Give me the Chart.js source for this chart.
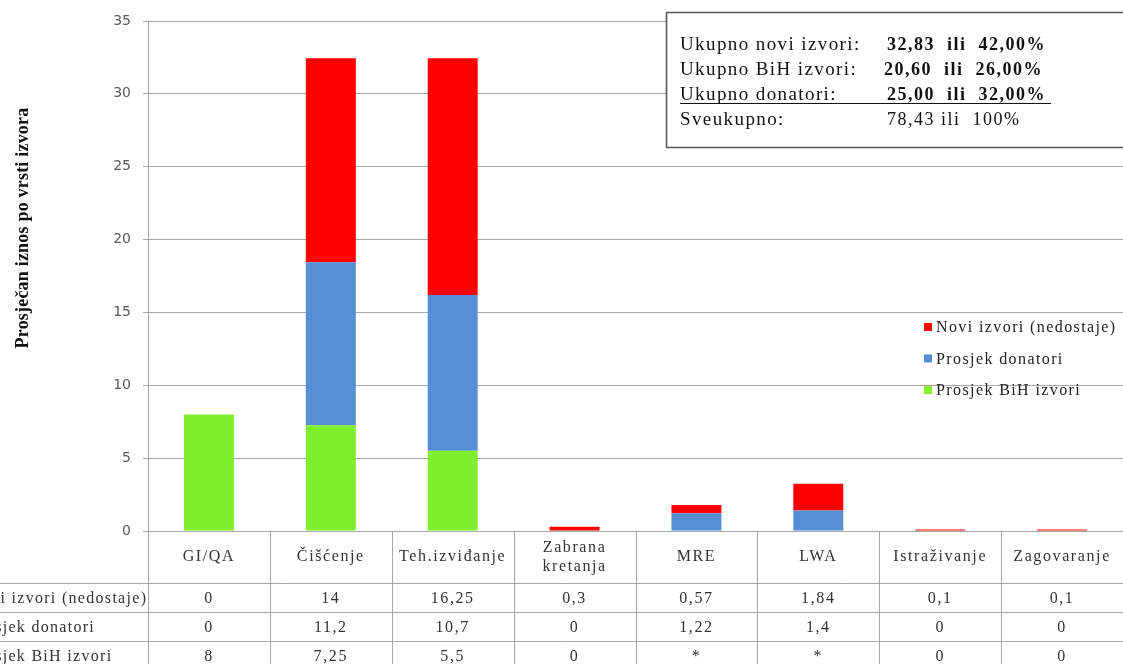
<!DOCTYPE html>
<html>
<head>
<meta charset="utf-8">
<script src="https://cdn.jsdelivr.net/npm/chart.js@4.4.1/dist/chart.umd.min.js"></script>
<style>
  html, body { margin: 0; padding: 0; background: #fff; }
</style>
</head>
<body>
<canvas id="chart" width="1123" height="664"></canvas>
<script>
const categories = ['GI/QA', 'Čišćenje', 'Teh.izviđanje', ['Zabrana', 'kretanja'], 'MRE', 'LWA', 'Istraživanje', 'Zagovaranje'];
const noviIzvori = [0, 14, 16.25, 0.3, 0.57, 1.84, 0.1, 0.1];
const donatori = [0, 11.2, 10.7, 0, 1.22, 1.4, 0, 0];
const bihIzvori = [8, 7.25, 5.5, 0, null, null, 0, 0];

const seriesNames = ['Novi izvori (nedostaje)', 'Prosjek donatori', 'Prosjek BiH izvori'];
const seriesColors = ['#FF0000', '#558ED5', '#7FEE2C'];

const summaryLabels = ['Ukupno novi izvori:', 'Ukupno BiH izvori:', 'Ukupno donatori:', 'Sveukupno:'];
const summaryValues = ['32,83  ili  42,00%', '20,60  ili  26,00%', '25,00  ili  32,00%', '78,43 ili  100%'];

const axisTitle = 'Prosječan iznos po vrsti izvora';
const SERIF = '"Liberation Serif", "Times New Roman", serif';
const LINE = '#a6a6a6';

const fmt = v => (v === null ? '*' : String(v).replace('.', ','));

function hline(ctx, x1, x2, y) {
  ctx.beginPath(); ctx.moveTo(x1, y); ctx.lineTo(x2, y); ctx.stroke();
}
function vline(ctx, x, y1, y2) {
  ctx.beginPath(); ctx.moveTo(x, y1); ctx.lineTo(x, y2); ctx.stroke();
}

const extras = {
  id: 'extras',
  afterDraw(chart) {
    const ctx = chart.ctx;
    const area = chart.chartArea;
    const xs = chart.scales.x;
    const n = categories.length;
    const colW = (area.right - area.left) / n;
    const top = area.bottom;
    const headH = 52, rowH = 29;
    ctx.save();

    // data table grid
    ctx.strokeStyle = LINE;
    ctx.lineWidth = 1;
    for (let i = 0; i <= n; i++) {
      const px = Math.round(area.left + i * colW) + 0.5;
      vline(ctx, px, top, top + headH + rowH * 4);
    }
    for (let r = 0; r < 4; r++) {
      const py = Math.round(top + headH + r * rowH) + 0.5;
      hline(ctx, 0, area.right, py);
    }

    ctx.fillStyle = '#333';
    ctx.font = '16px ' + SERIF;
    ctx.letterSpacing = '1.6px';
    ctx.textBaseline = 'middle';
    ctx.textAlign = 'center';
    categories.forEach((c, i) => {
      const cx = xs.getPixelForValue(i);
      const lines = Array.isArray(c) ? c : [c];
      lines.forEach((t, k) => {
        ctx.fillText(t, cx, top + headH / 2 + (k - (lines.length - 1) / 2) * 19);
      });
    });

    const rows = [noviIzvori, donatori, bihIzvori];
    rows.forEach((vals, r) => {
      const cy = top + headH + r * rowH + rowH / 2 + 1;
      ctx.textAlign = 'left';
      ctx.letterSpacing = '1.3px';
      ctx.fillText(seriesNames[r], -31, cy);
      ctx.textAlign = 'center';
      ctx.letterSpacing = '1.6px';
      vals.forEach((v, i) => ctx.fillText(fmt(v), xs.getPixelForValue(i), cy));
    });

    // summary box
    ctx.fillStyle = '#fff';
    ctx.fillRect(666, 12, 470, 135);
    ctx.strokeStyle = '#555';
    ctx.lineWidth = 1.5;
    ctx.strokeRect(666.5, 12.5, 470, 135);
    ctx.fillStyle = '#111';
    ctx.textBaseline = 'alphabetic';
    ctx.textAlign = 'left';
    summaryLabels.forEach((t, i) => {
      const by = 50 + i * 25;
      ctx.font = '19px ' + SERIF;
      ctx.letterSpacing = '1.4px';
      ctx.fillText(t, 680, by);
      ctx.font = (i < 3 ? 'bold ' : '') + '18px ' + SERIF;
      ctx.letterSpacing = '1.5px';
      ctx.fillText(summaryValues[i], i === 1 ? 884 : 887, by);
    });
    ctx.strokeStyle = '#111';
    ctx.lineWidth = 1.2;
    hline(ctx, 680, 1051, 103.5);

    // legend
    ctx.font = '16px ' + SERIF;
    ctx.letterSpacing = '1.4px';
    ctx.textBaseline = 'middle';
    seriesNames.forEach((t, i) => {
      const cy = 327 + i * 31.5;
      ctx.fillStyle = seriesColors[i];
      ctx.fillRect(924, cy - 4, 8, 8);
      ctx.fillStyle = '#222';
      ctx.fillText(t, 936, cy + 1);
    });

    // y axis title
    ctx.translate(23, 228);
    ctx.rotate(-Math.PI / 2);
    ctx.font = 'bold 18px ' + SERIF;
    ctx.letterSpacing = '0.2px';
    ctx.textAlign = 'center';
    ctx.fillStyle = '#111';
    ctx.fillText(axisTitle, 0, 0);
    ctx.restore();
  }
};

new Chart(document.getElementById('chart'), {
  type: 'bar',
  data: {
    labels: categories,
    datasets: [
      { label: seriesNames[2], data: bihIzvori, backgroundColor: seriesColors[2] },
      { label: seriesNames[1], data: donatori, backgroundColor: seriesColors[1] },
      { label: seriesNames[0], data: noviIzvori, backgroundColor: seriesColors[0] }
    ]
  },
  options: {
    responsive: false,
    animation: false,
    barPercentage: 0.41,
    categoryPercentage: 1,
    layout: { padding: { top: 21, right: 0, bottom: 0, left: 0 } },
    plugins: { legend: { display: false }, tooltip: { enabled: false } },
    scales: {
      x: {
        stacked: true,
        ticks: { display: false },
        grid: { display: false },
        border: { color: LINE },
        afterFit: s => { s.height = 133; }
      },
      y: {
        stacked: true,
        min: 0,
        max: 35,
        ticks: { stepSize: 5, padding: 12, color: '#595959', font: { family: 'DejaVu Sans', size: 14 } },
        grid: { color: LINE, tickLength: 5 },
        border: { color: LINE },
        afterFit: s => { s.width = 148; }
      }
    }
  },
  plugins: [extras]
});
</script>
</body>
</html>
